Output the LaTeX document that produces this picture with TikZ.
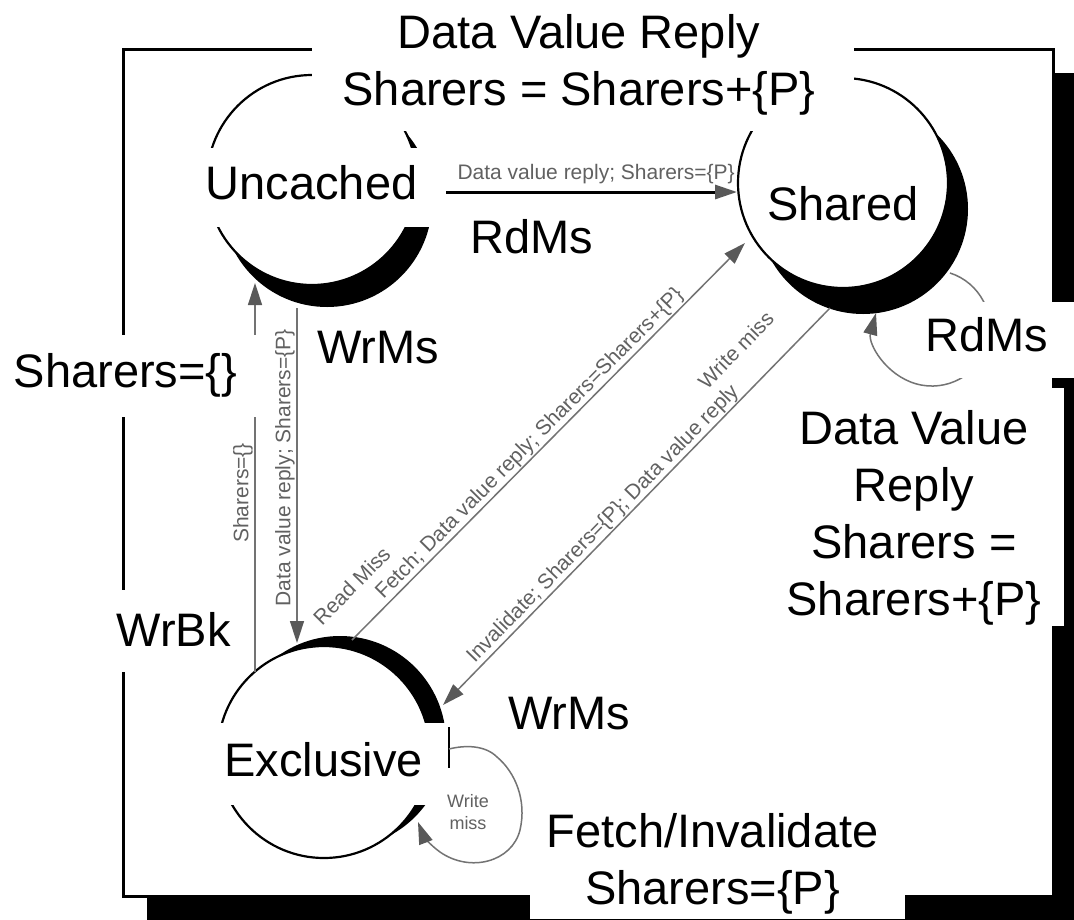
\documentclass[tikz,border=0pt]{standalone}
\usepackage{fontspec}
\setmainfont{Liberation Sans}
\usetikzlibrary{arrows.meta,calc}
\begin{document}
\begin{tikzpicture}[x=1pt,y=-1pt,
  biglbl/.style={font=\fontsize{47}{57}\selectfont, inner sep=0pt, align=center},
  smlbl/.style={font=\fontsize{21}{25}\selectfont, text=black!62, inner sep=0pt},
  arrtip/.style={-{Triangle[length=22pt,width=14pt,color=black!65]}},
  conn/.style={draw=black!55, line width=1.5pt, arrtip},
  stnode/.style={circle, draw=black, line width=2.2pt, fill=white, minimum size=#1, inner sep=0pt},
  stshade/.style={circle, fill=black, minimum size=#1, inner sep=0pt},
]
\useasboundingbox (0,0) rectangle (1074,919);
% frame with shadow
\fill[black] (147,73) rectangle (1080,925);
\draw[line width=3pt, fill=white] (123,49) rectangle (1053,896);
% states
\node[stshade=210pt] (Ush) at (327,202) {};
\node[stnode=210pt] (U) at (312,180) {};
\node[stshade=210pt] (Ssh) at (863,209) {};
\node[stnode=210pt] (S) at (843,183) {};
\node[stshade=212pt] (Esh) at (340,742) {};
\node[stnode=212pt] (E) at (324,752) {};
% connectors
\draw[line width=3pt, black, arrtip] ($(U)+(134,12)$) -- ($(S)+(-106,9)$);
\draw[conn] ($(U)+(-15,128)$) -- ($(E)+(-27,-109)$);
\draw[conn] ($(E)+(-69,-80)$) -- ($(U)+(-57,103)$);
\draw[conn] ($(E)+(28,-112)$) -- ($(S)+(-98,60)$);
\draw[conn] ($(S)+(-13,125)$) -- ($(E)+(119,-47)$);
\draw[conn] ($(S)+(107,90)$) .. controls (980,282.6) and (996.7,314.8) .. (987.5,345)
  .. controls (978.3,375.2) and (946.4,392.5) .. (916,383.8)
  .. controls (885.6,375.1) and (867.8,343.5) .. ($(S)+(33,130)$);
\draw[line width=1.5pt] ($(E)+(125,-25)$) -- ($(E)+(125,16)$);
\draw[conn] ($(E)+(125,-3)$) .. controls (465,745) and (485,745) .. (497,757)
  .. controls (515,772) and (527,800) .. (520,830)
  .. controls (512,862) and (470,873) .. (440,852)
  .. controls (430,845) and (423,835) .. ($(E)+(94,70)$);
% small labels
\node[smlbl, anchor=south east] (lUS) at (735,184) {Data value reply; Sharers=\{P\}};
\node[smlbl, rotate=90, anchor=south] (lEU) at (253,493) {Sharers=\{\}};
\node[smlbl, rotate=90, anchor=south] (lUE) at (295,468) {Data value reply; Sharers=\{P\}};
\node[smlbl, rotate=45.3, anchor=south west, align=left] (lES) at (343,647)
  {Read Miss\\\hspace*{62pt}Fetch; Data value reply; Sharers=Sharers+\{P\}};
\node[smlbl, rotate=45.7, anchor=south west, align=left] (lSE) at (478,667)
  {\hspace*{358pt}Write miss\\Invalidate; Sharers=\{P\}; Data value reply};
\node[smlbl, align=center, font=\fontsize{18}{22}\selectfont] (lEE) at (468,812) {Write\\miss};
% state names
\fill[white] (195,148) rectangle (444,227);
\node[biglbl] (tU) at (311.5,182.5) {Uncached};
\node[biglbl] (tS) at (843,203.5) {Shared};
\fill[white] (197,723) rectangle (447,805);
\node[biglbl] (tE) at (323.5,760) {Exclusive};
% big labels
\fill[white] (312,0) rectangle (854,131);
\node[biglbl] (lTop) at (579,64.5) {Data Value Reply\\Sharers = Sharers+\{P\}};
\fill[white] (766,388) rectangle (1064,626);
\node[biglbl] (lRight) at (914,517.5) {Data Value\\Reply\\Sharers =\\Sharers+\{P\}};
\fill[white] (922,302) rectangle (1074,378);
\node[biglbl] (lRd2) at (987,335) {RdMs};
\fill[white] (530,800) rectangle (905,919);
\node[biglbl] (lFI) at (712.5,863.5) {Fetch/Invalidate\\Sharers=\{P\}};
\fill[white] (0,335) rectangle (262,417);
\node[biglbl] (lSh) at (125.5,375) {Sharers=\{\}};
\fill[white] (107,590) rectangle (240,672);
\node[biglbl] (lWB) at (173.5,629) {WrBk};
\node[biglbl] (lRd1) at (532,236.5) {RdMs};
\node[biglbl] (lWr1) at (378,348) {WrMs};
\node[biglbl] (lWr2) at (569,713.5) {WrMs};
\end{tikzpicture}
\end{document}
